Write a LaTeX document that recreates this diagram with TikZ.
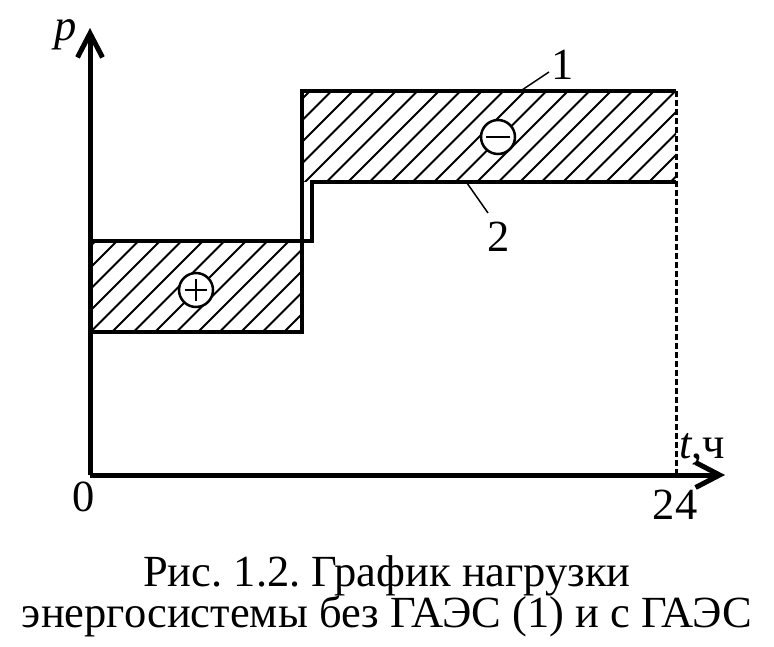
\documentclass[tikz,border=0pt]{standalone}
\usepackage{fontspec}
\setmainfont{Liberation Serif}
\usetikzlibrary{arrows.meta}
\frenchspacing

\begin{document}
\begin{tikzpicture}[x=1pt,y=1pt,
    every node/.style={font=\fontsize{44.5}{44.5}\selectfont,inner sep=0pt},
    axis/.style={line width=5pt,-{Straight Barb[length=24pt,width=25pt]}},
    curve/.style={line width=3.5pt},
    hatch/.style={line width=1.8pt},
    leader/.style={line width=1.5pt},
    sign/.style={circle,draw,line width=2.5pt,fill=white,minimum size=34pt},
    minussign/.style={sign,path picture={
      \draw[line width=2pt] ([xshift=-12pt]path picture bounding box.center) -- ++(24pt,0);}},
    plussign/.style={sign,path picture={
      \draw[line width=2pt] ([xshift=-11pt]path picture bounding box.center) -- ++(22pt,0);
      \draw[line width=2pt] ([yshift=-11pt]path picture bounding box.center) -- ++(0,22pt);}}]
    \useasboundingbox (-90,-171) rectangle (684,475);

    % hatched areas
    \begin{scope}
      \clip (0,143) rectangle (212,234);
      \foreach \k in {-8,...,22}
        \draw[hatch] (\k*21.5-121,0) -- ++(500,500);
    \end{scope}
    \begin{scope}
      \clip (212,293) rectangle (586,384);
      \foreach \k in {-8,...,22}
        \draw[hatch] (\k*21.5-121,0) -- ++(500,500);
    \end{scope}

    % load curves
    \draw[curve] (0,143) -- (212,143) -- (212,384) -- (586,384);
    \draw[curve] (0,234) -- (222,234) -- (222,293) -- (586,293);
    \draw[line width=3pt,dash pattern=on 6pt off 3pt] (586,384) -- (586,0);

    % axes
    \coordinate (o) at (0,0);
    \coordinate (ptip) at (0,447);
    \coordinate (ttip) at (635,0);
    \draw[axis] (o) -- (ptip);
    \draw[axis] (o) -- (ttip);

    \node (p) at (-24,440) {\textit{p}};
    \node (zero) at (-6,-22) {0};
    \node (end) at (585,-30) {24};
    \node (t) at (612,26) {\textit{t},ч};

    \node (plus) [plussign] at (106,185) {};
    \node (minus) [minussign] at (408,338) {};

    \node (one) at (473,410) {1};
    \node (two) at (409,238) {2};
    \coordinate (c1) at (432,385);
    \coordinate (l1) at (459,403);
    \coordinate (c2) at (377,292);
    \coordinate (l2) at (398,262);
    \draw[leader] (l1) -- (c1);
    \draw[leader] (l2) -- (c2);

    \node (cap1) [anchor=base] at (297,-111) {Рис. 1.2. График нагрузки};
    \node (cap2) [anchor=base] at (297,-152) {энергосистемы без ГАЭС (1) и с ГАЭС};
\end{tikzpicture}
\end{document}
